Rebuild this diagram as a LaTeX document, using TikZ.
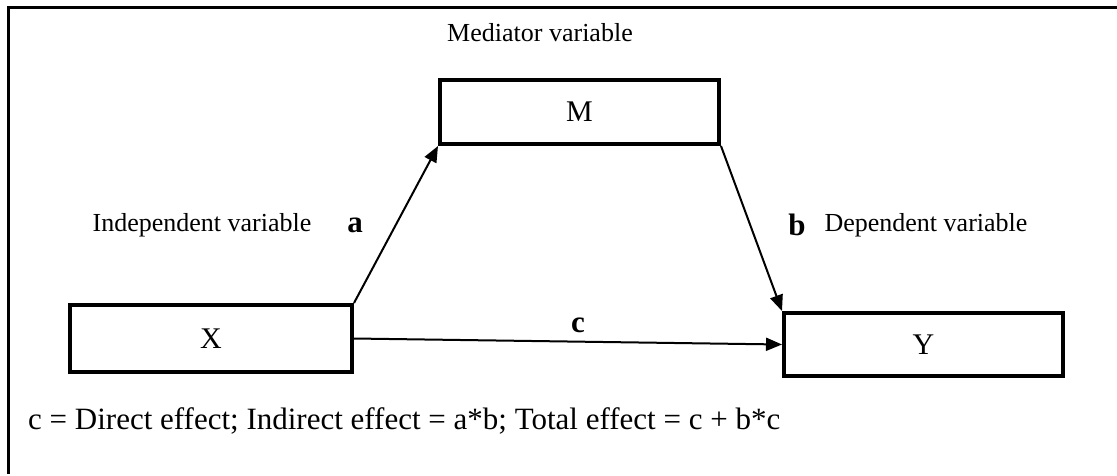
\documentclass[tikz,border=0pt]{standalone}
\usepackage{fontspec}
\setmainfont{Liberation Serif}
\usetikzlibrary{arrows.meta}
\tikzset{
  varbox/.style={draw, line width=4pt, rectangle, inner sep=0pt, font=\fontsize{30}{34}\selectfont},
  lbl/.style={inner sep=0pt, font=\fontsize{26}{30}\selectfont},
  coef/.style={inner sep=0pt, font=\fontsize{31}{35}\selectfont\bfseries},
  path arrow/.style={line width=2pt, -{Triangle[length=16pt,width=13pt]}},
  frameline/.style={line width=3pt}
}
\begin{document}
\begin{tikzpicture}[x=1pt,y=-1pt]
\useasboundingbox (0,0) rectangle (1117,475);
% frame
\coordinate (ftr) at (1117,7);
\coordinate (ftl) at (8,7);
\coordinate (fbl) at (8,474);
\draw[frameline] (ftr) -- (ftl) -- (fbl);
% boxes
\node[varbox, minimum width=279pt, minimum height=64pt] (M) at (579.5,112) {M};
\node[varbox, minimum width=282pt, minimum height=67pt] (X) at (211,338.5) {X};
\node[varbox, minimum width=279pt, minimum height=63pt] (Y) at (923.5,344.5) {Y};
% labels
\node[lbl] (medl) at (540,33) {Mediator variable};
\node[lbl] (indl) at (202,225) {Independent variable};
\node[lbl] (depl) at (926,225) {Dependent variable};
\node[coef] (la) at (355,225) {a};
\node[coef] (lb) at (797,225) {b};
\node[coef] (lc) at (578,325) {c};
\node[lbl, anchor=west, font=\fontsize{31}{36}\selectfont] (note) at (28,421) {c = Direct effect; Indirect effect = a*b; Total effect = c + b*c};
% arrows
\draw[path arrow] (X.north east) -- (M.south west);
\draw[path arrow] (M.south east) -- (Y.north west);
\draw[path arrow] (X.east) -- (Y.west);
\end{tikzpicture}
\end{document}
